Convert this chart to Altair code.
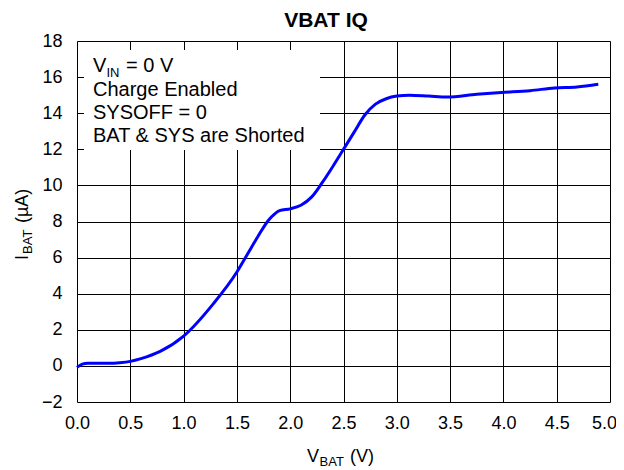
import altair as alt
import pandas as pd

vbat = [0.0, 0.05, 0.1, 0.2, 0.3, 0.4, 0.5, 0.6, 0.78, 1.0, 1.28, 1.5, 1.6, 1.7, 1.8,
        1.85, 1.9, 2.0, 2.1, 2.2, 2.3, 2.4, 2.5, 2.6, 2.7, 2.8, 2.9, 3.0, 3.12, 3.3, 3.47,
        3.75, 3.98, 4.25, 4.48, 4.69, 4.89]
ibat = [-0.08, 0.1, 0.15, 0.15, 0.15, 0.18, 0.25, 0.4, 0.8, 1.65, 3.45, 5.2, 6.2, 7.2, 8.1,
        8.4, 8.6, 8.7, 8.9, 9.35, 10.15, 11.05, 12.0, 12.95, 13.9, 14.5, 14.8, 14.95, 15.0, 14.95, 14.9,
        15.05, 15.15, 15.25, 15.4, 15.45, 15.6]
x_ticks = [0.0, 0.5, 1.0, 1.5, 2.0, 2.5, 3.0, 3.5, 4.0, 4.5, 5.0]
y_ticks = [-2, 0, 2, 4, 6, 8, 10, 12, 14, 16, 18]
notes = ["Charge Enabled", "SYSOFF = 0", "BAT & SYS are Shorted"]

FONT = "Liberation Sans, Arial, sans-serif"
df = pd.DataFrame({"vbat": vbat, "ibat": ibat})
one = pd.DataFrame({"k": [0]})

xs = alt.Scale(domain=[0, 5], nice=False, zero=False)
ys = alt.Scale(domain=[-2, 18], nice=False, zero=False)

line = alt.Chart(df).mark_line(color="#0000FF", strokeWidth=3, interpolate="monotone").encode(
    x=alt.X("vbat:Q", scale=xs, axis=alt.Axis(values=x_ticks, format=".1f", title=None, grid=True,
            gridColor="black", gridWidth=1, gridOpacity=1, ticks=False, domain=False,
            labelFlush=False, labelOverlap=False,
            labelOffset={"condition": {"test": "datum.value >= 5", "value": -6}, "value": 0},
            labelFont=FONT, labelFontSize=18, labelColor="black", labelPadding=12)),
    y=alt.Y("ibat:Q", scale=ys, axis=alt.Axis(values=y_ticks, format="d", title=None, grid=True,
            gridColor="black", gridWidth=1, gridOpacity=1, ticks=False, domain=False,
            labelFlush=False, labelOverlap=False,
            labelFont=FONT, labelFontSize=18, labelColor="black", labelPadding=15)),
)

box = alt.Chart(one).mark_rect(fill="white").encode(
    x=alt.value(7), x2=alt.value(243), y=alt.value(9), y2=alt.value(109))


def txt(text, x, y, size, angle=0, weight="normal", align="left"):
    return alt.Chart(one).mark_text(text=text, font=FONT, fontSize=size, fontWeight=weight,
                                    color="black", align=align, baseline="alphabetic",
                                    angle=angle).encode(x=alt.value(x), y=alt.value(y))


layers = [box, line]
# annotation
layers.append(txt("V", 16, 31, 20))
layers.append(txt("IN", 29.5, 36, 13))
layers.append(txt("= 0 V", 49, 31, 20))
for i, n in enumerate(notes):
    layers.append(txt(n, 16, 54.5 + 23.3 * i, 20))
# title
layers.append(txt("VBAT IQ", 249, -14, 21, weight="bold", align="center"))
# x axis title
layers.append(txt("V", 230, 421, 18))
layers.append(txt("BAT", 242.5, 425, 13))
layers.append(txt("(V)", 273, 421, 18))
# y axis title
layers.append(txt("I", -49, 219, 18, angle=270))
layers.append(txt("BAT", -45, 213, 13, angle=270))
layers.append(txt("(µA)", -49, 182, 18, angle=270))

chart = alt.layer(*layers).properties(
    width=533, height=361,
    autosize=alt.AutoSizeParams(type="none"),
    padding={"left": 69, "top": 33, "right": 6, "bottom": 68},
).configure_view(stroke="black", strokeWidth=3).configure(background="white")

chart.save("out.html", embed_options={"renderer": "svg", "actions": False})
